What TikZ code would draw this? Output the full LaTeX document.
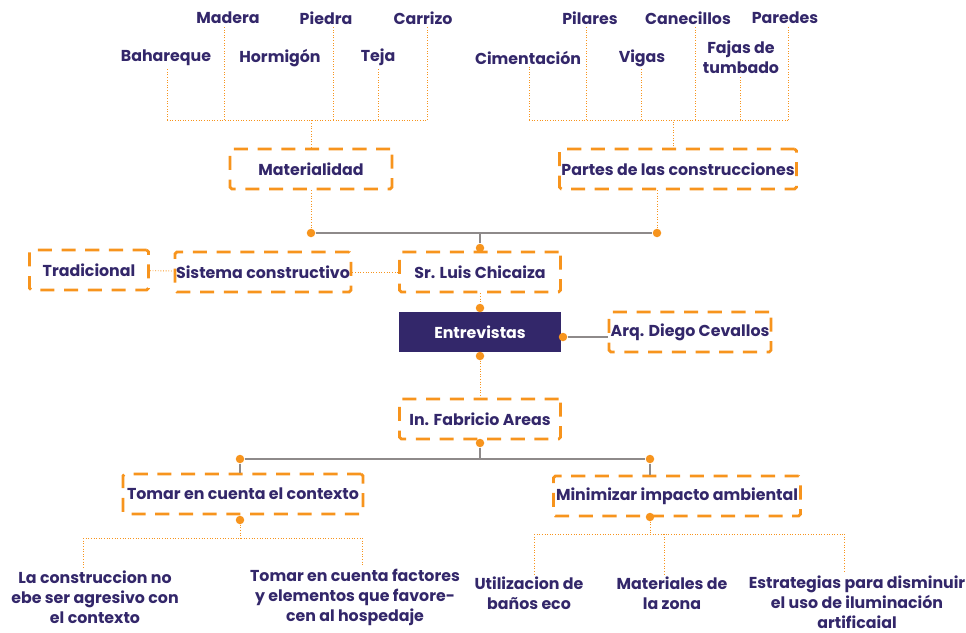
\documentclass[tikz,border=0pt]{standalone}
\usepackage{fontspec}
\setmainfont{Poppins}
\usetikzlibrary{positioning,calc}
\definecolor{naranja}{HTML}{F7941D}
\definecolor{morado}{HTML}{33276A}
\definecolor{gris}{HTML}{8E8A8A}
\tikzset{
  caja/.style={draw=naranja, line width=1.6pt, dash pattern=on 8pt off 5.5pt,
               rounded corners=1pt, minimum height=0.8cm, inner sep=0pt,
               font=\bfseries\fontsize{9}{11}\selectfont, text=morado, align=center},
  cajallena/.style={fill=morado, minimum height=0.8cm, minimum width=3.24cm,
               font=\bfseries\fontsize{9}{11}\selectfont, text=white},
  hoja/.style={font=\bfseries\fontsize{9}{11.4}\selectfont, text=morado,
               align=center, inner sep=1pt},
  punto/.style={circle, fill=naranja, inner sep=0pt, minimum size=1.7mm},
  tline/.style={draw=naranja, line width=0.5pt, densely dotted},
  gline/.style={draw=gris, line width=0.9pt},
}
\begin{document}
\begin{tikzpicture}[x=0.02cm, y=-0.02cm]
  \useasboundingbox (0,0) rectangle (966,632);

  % materiales
  \node[hoja] (mad)  at (228,18) {Madera};
  \node[hoja] (pie)  at (326,18) {Piedra};
  \node[hoja] (carr) at (423,18) {Carrizo};
  \node[hoja] (bah)  at (166,58) {Bahareque};
  \node[hoja] (hor)  at (280,58) {Hormigón};
  \node[hoja] (teja) at (378,57) {Teja};
  % partes
  \node[hoja] (pil)  at (590,18) {Pilares};
  \node[hoja] (can)  at (688,18) {Canecillos};
  \node[hoja] (pare) at (785,18) {Paredes};
  \node[hoja] (cim)  at (528,58) {Cimentación};
  \node[hoja] (vig)  at (642,58) {Vigas};
  \node[hoja] (faj)  at (741,57) {Fajas de\\tumbado};

  \node[caja, minimum width=3.24cm] (mat)    at (311,169) {Materialidad};
  \node[caja, minimum width=4.74cm] (partes) at (678,169) {Partes de las construcciones};

  \foreach \n/\x in {bah/167, mad/224, pie/333, teja/378, carr/427} {
    \coordinate (m-\n) at (\x,120);
    \draw[tline] (m-\n) -- (m-\n |- \n.south);
  }
  \foreach \n/\x in {cim/529, pil/586, vig/641, can/695, faj/740, pare/788} {
    \coordinate (p-\n) at (\x,120);
    \draw[tline] (p-\n) -- (p-\n |- \n.south);
  }
  \draw[tline] (m-bah) -- (m-carr);
  \draw[tline] (p-cim) -- (p-pare);
  \draw[tline] (mat.north) -- (mat.north |- m-bah);
  \draw[tline] (673,149) coordinate (ptop) -- (ptop |- p-cim);

  % centro
  \node[caja, minimum width=3.22cm] (luis)    at (480,272) {Sr. Luis Chicaiza};
  \node[caja, minimum width=3.52cm] (sistema) at (263,272) {Sistema constructivo};
  \node[caja, minimum width=2.38cm] (trad)    at (89,270)  {Tradicional};
  \node[cajallena] (entrev) at (480,332) {Entrevistas};
  \node[caja, minimum width=3.24cm] (diego)    at (690,332) {Arq. Diego Cevallos};
  \node[caja, minimum width=3.22cm] (fabricio) at (480,419) {In. Fabricio Areas};

  \node[punto] (d1) at (311,233) {};
  \node[punto] (d2) at (657,233) {};
  \node[punto] (d3) at (480,248) {};
  \node[punto] (d4) at (480,308) {};
  \node[punto] (d5) at (480,356) {};
  \node[punto] (d6) at (563,337) {};
  \node[punto] (d7) at (480,443) {};

  \draw[tline] (mat.south) -- (d1);
  \draw[tline] (d2 |- partes.south) -- (d2);
  \draw[gline] (d1) -- (d2);
  \draw[gline] (d3) -- (d3 |- d1);
  \draw[tline] (trad) -- (sistema);
  \draw[tline] (sistema.east) -- (luis.west);
  \draw[tline] (luis.south) -- (d4);
  \draw[tline] (d5) -- (fabricio.north);
  \draw[gline] (d6) -- (d6 -| diego.west);

  % criterios
  \node[caja, minimum width=4.8cm] (contexto) at (243,494) {Tomar en cuenta el contexto};
  \node[caja, minimum width=4.94cm] (impacto) at (677,496) {Minimizar impacto ambiental};

  \node[punto] (d8)  at (240,459) {};
  \node[punto] (d9)  at (650,459) {};
  \node[punto] (d10) at (240,520) {};
  \node[punto] (d11) at (650,517) {};

  \draw[gline] (d7) -- (d7 |- d8);
  \draw[gline] (d8) -- (d9);
  \draw[gline] (d8) -- (d8 |- contexto.north);
  \draw[gline] (d9) -- (d9 |- impacto.north);

  \node[hoja] (lac) at (95,597)  {La construccion no\\ebe ser agresivo con\\el contexto};
  \node[hoja] (tom) at (355,597) {Tomar en cuenta factores\\y elementos que favore-\\cen al hospedaje};
  \node[hoja] (uti) at (529,593) {Utilizacion de\\baños eco};
  \node[hoja] (mtz) at (672,593) {Materiales de\\la zona};
  \node[hoja] (est) at (857,602) {Estrategias para disminuir\\el uso de iluminación\\artificaial};

  \coordinate (c-lac) at (83,538);
  \coordinate (c-tom) at (362,538);
  \coordinate (c-uti) at (534,534);
  \coordinate (c-mtz) at (664,534);
  \coordinate (c-est) at (844,534);

  \draw[tline] (d10) -- (d10 |- c-lac);
  \draw[tline] (c-lac) -- (c-tom);
  \draw[tline] (d11) -- (d11 |- c-uti);
  \draw[tline] (c-uti) -- (c-est);
  \foreach \n in {lac, tom, uti, mtz, est}
    \draw[tline] (c-\n) -- (c-\n |- \n.north);
\end{tikzpicture}
\end{document}
